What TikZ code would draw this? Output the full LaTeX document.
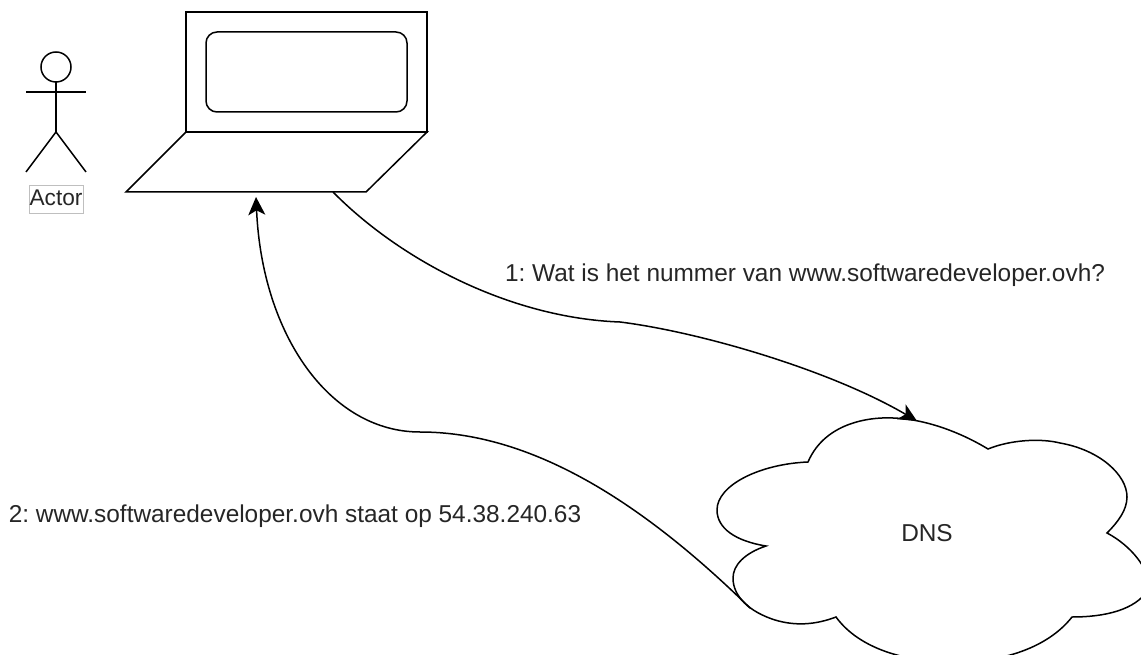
\documentclass[tikz,border=0pt]{standalone}
\usepackage{fontspec}
\setmainfont{Liberation Sans}
\usetikzlibrary{arrows.meta}
\newlength{\du}
\setlength{\du}{0.75pt}
\frenchspacing
\tikzset{
  dialine/.style={draw=black,line width=1.5\du},
  diabox/.style={dialine,fill=white,inner sep=0pt,outer sep=0pt},
  dialabel/.style={inner sep=0pt,outer sep=0pt,anchor=base,font=\fontsize{18.3pt}{22pt}\selectfont,text=black!85},
  diaarrow/.style={dialine,-{Stealth[length=13.5pt,width=12.75pt,inset=3.5pt]}}
}

\begin{document}
\begin{tikzpicture}
\pgftransformxscale{1.000000}
\pgftransformyscale{-1.000000}
\useasboundingbox (0\du,0\du) rectangle (1141\du,655\du);
\fill[white] (0\du,0\du) rectangle (1141\du,655\du);
% actor
\node[diabox,circle,minimum size=30\du] (head) at (56\du,67\du){};
\coordinate (hip) at (56\du,132\du);
\coordinate (armleft) at (26\du,92\du);
\coordinate (armright) at (86\du,92\du);
\coordinate (footleft) at (26\du,172\du);
\coordinate (footright) at (86\du,172\du);
\draw[dialine] (head)--(hip);
\draw[dialine] (armleft)--(armright);
\draw[dialine] (footleft)--(hip)--(footright);
\node[draw=black!25,line width=0.75\du,fill=white,inner sep=0pt,minimum width=54\du,minimum height=28\du] (actorbox) at (56\du,199\du){};
\node[dialabel,font=\fontsize{17pt}{20pt}\selectfont] (actor) at (56\du,206\du){Actor};
% laptop
\node[diabox,minimum width=241\du,minimum height=120\du] (screen) at (306.5\du,72\du){};
\node[diabox,rounded corners=11\du,minimum width=201\du,minimum height=80\du] (display) at (306.5\du,72\du){};
\draw[dialine,line join=miter] (186\du,132\du)--(427\du,132\du)--(366\du,192\du)--(126\du,192\du)--cycle;
\coordinate (laptopout) at (333\du,192\du);
\coordinate (laptopin) at (256\du,197\du);
% cloud
\draw[dialine,fill=white] (808\du,462\du)
  .. controls (826\du,420\du) and (875\du,417\du) .. (893\du,418\du)
  .. controls (925\du,419\du) and (960\du,432\du) .. (988\du,449\du)
  .. controls (1010\du,440\du) and (1040\du,438\du) .. (1060\du,443\du)
  .. controls (1100\du,450\du) and (1127\du,475\du) .. (1127\du,497\du)
  .. controls (1127\du,510\du) and (1118\du,522\du) .. (1107\du,533\du)
  .. controls (1130\du,545\du) and (1152\du,570\du) .. (1148\du,590\du)
  .. controls (1135\du,610\du) and (1105\du,617\du) .. (1072\du,617\du)
  .. controls (1050\du,645\du) and (1010\du,660\du) .. (965\du,662\du)
  .. controls (910\du,664\du) and (860\du,650\du) .. (836\du,617\du)
  .. controls (815\du,625\du) and (795\du,626\du) .. (775\du,620\du)
  .. controls (750\du,612\du) and (733\du,597\du) .. (733\du,578\du)
  .. controls (733\du,565\du) and (745\du,553\du) .. (766\du,546\du)
  .. controls (735\du,541\du) and (717\du,528\du) .. (717\du,510\du)
  .. controls (717\du,485\du) and (760\du,464\du) .. (808\du,462\du)--cycle;
\node[dialabel] (dns) at (927\du,541.5\du){DNS};
\coordinate (cloudin) at (917\du,421\du);
\coordinate (cloudout) at (750\du,608\du);
% messages
\coordinate (questionbend) at (620\du,322\du);
\coordinate (answerbend) at (420\du,432\du);
\draw[diaarrow] (laptopout)
  .. controls (400\du,260\du) and (510\du,318\du) .. (questionbend)
  .. controls (700\du,332\du) and (830\du,370\du) .. (cloudin);
\draw[diaarrow] (cloudout)
  .. controls (640\du,500\du) and (530\du,432\du) .. (answerbend)
  .. controls (330\du,432\du) and (262\du,335\du) .. (laptopin);
\node[dialabel] (question) at (805\du,282\du){1: Wat is het nummer van www.softwaredeveloper.ovh?};
\node[dialabel] (answer) at (295\du,522\du){2: www.softwaredeveloper.ovh staat op 54.38.240.63};
\end{tikzpicture}
\end{document}
